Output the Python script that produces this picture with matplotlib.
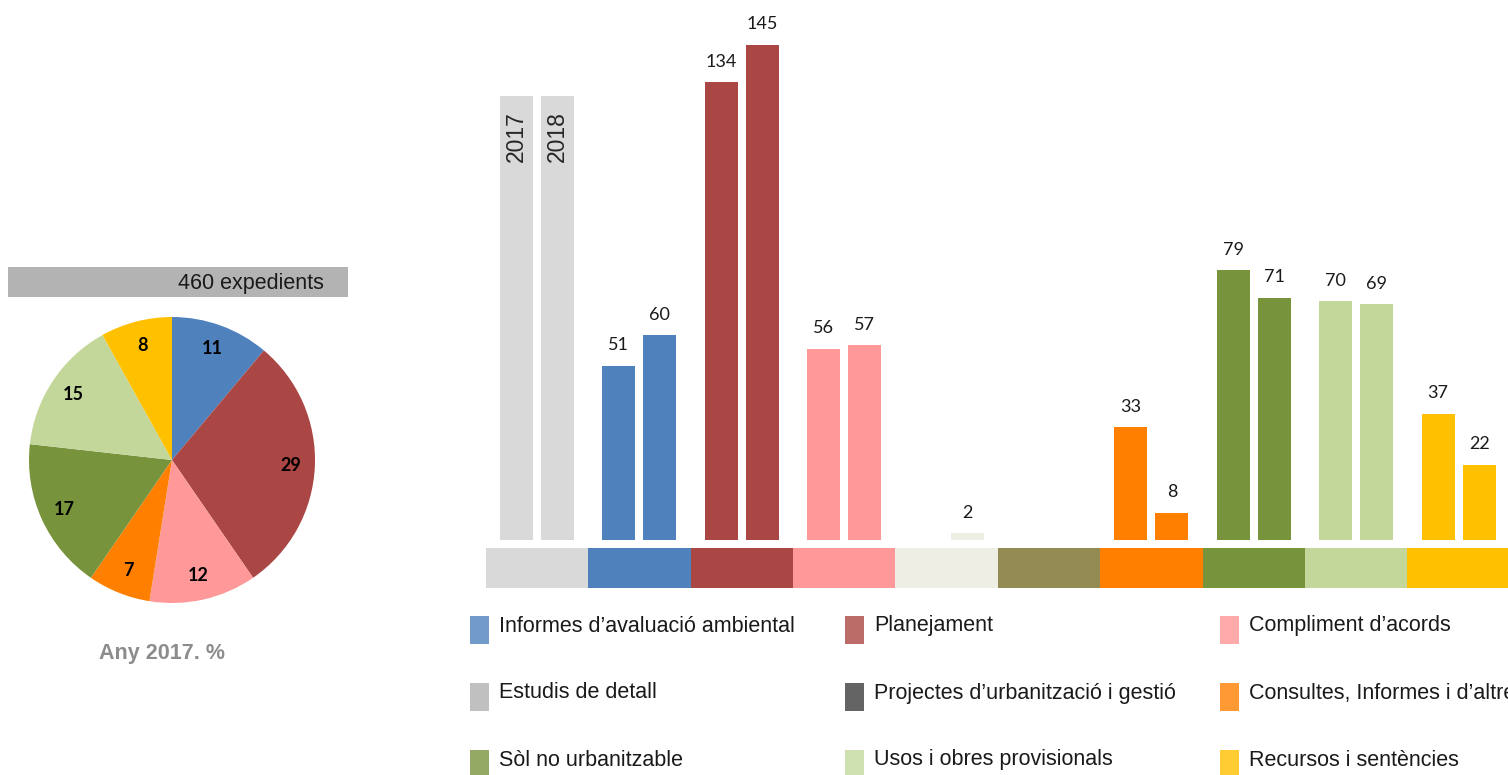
import matplotlib
matplotlib.use("Agg")
import matplotlib.pyplot as plt
from matplotlib.patches import Rectangle
from matplotlib import font_manager

# ---- data ----
pie_values = [11, 29, 12, 7, 17, 15, 8]
pie_colors = ["#4f81bd", "#aa4643", "#ff9999", "#ff8000", "#77933c", "#c4d79b", "#ffc000"]
total_expedients = 460

years = ["2017", "2018"]
header_height = 130
v2017 = [None, 51, 134, 56, None, None, 33, 79, 70, 37]
v2018 = [None, 60, 145, 57, 2, None, 8, 71, 69, 22]
slot_colors = ["#d9d9d9", "#4f81bd", "#aa4643", "#ff9999", "#eeeee4",
               "#948a54", "#ff8000", "#77933c", "#c4d79b", "#ffc000"]

legend_labels = ["Informes d\u2019avaluació ambiental", "Planejament", "Compliment d\u2019acords",
                 "Estudis de detall", "Projectes d\u2019urbanització i gestió", "Consultes, Informes i d\u2019altres",
                 "Sòl no urbanitzable", "Usos i obres provisionals", "Recursos i sentències"]
legend_colors = ["#729aca", "#bb6b68", "#ffaaaa", "#c0c0c0", "#646464", "#ff9933",
                 "#93a964", "#cfe0b0", "#ffcc33"]

names = {f.name for f in font_manager.fontManager.ttflist}
narrow = "Liberation Sans Narrow" if "Liberation Sans Narrow" in names else "Liberation Sans"

W, H = 1508, 775
fig = plt.figure(figsize=(W / 100, H / 100), dpi=100)

def fx(x): return x / W
def fy(y): return 1 - y / H

# ---- pie ----
pax = fig.add_axes([fx(29), fy(603), fx(286), 286 / H])
wedges, texts, autotexts = pax.pie(pie_values, colors=pie_colors, startangle=90, counterclock=False,
                                   autopct="%.0f", pctdistance=0.83,
                                   textprops=dict(fontfamily="Lato", fontweight="bold", fontsize=13))
pax.set_xlim(-1, 1)
pax.set_ylim(-1, 1)
pax.set_aspect("equal")

fig.add_artist(Rectangle((fx(8), fy(297)), fx(340), 30 / H, transform=fig.transFigure,
                         color="#b3b3b3", lw=0))
fig.text(fx(251), fy(284), f"{total_expedients} expedients", ha="center", va="center",
         fontfamily=narrow, fontsize=15.5, color="#1a1a1a")
fig.text(fx(162), fy(653), "Any 2017. %", ha="center", va="center",
         fontfamily=narrow, fontsize=15.5, fontweight="bold", color="#8c8c8c")

# ---- bars ----
bax = fig.add_axes([fx(485.8), fy(540), fx(1024), 529.2 / H])
bax.set_xlim(-0.5, 9.5)
bax.set_ylim(0, 155)
bax.axis("off")
off, bw = 0.2, 0.322
xs = list(range(len(slot_colors)))

hb = bax.bar([-off, off], [header_height] * 2, width=bw, color=slot_colors[0])
for b, yr in zip(hb, years):
    bax.text(b.get_x() + b.get_width() / 2, header_height - 4.5, yr, rotation=90,
             ha="center", va="top", fontfamily="Liberation Sans", fontsize=16.5, color="#262626")

for vals, d in ((v2017, -off), (v2018, off)):
    for i, v in enumerate(vals):
        if v is None or i == 0:
            continue
        bax.bar(i + d, v, width=bw, color=slot_colors[i])
        bax.annotate(str(v), (i + d, v), xytext=(0, 9), textcoords="offset points",
                     ha="center", va="bottom", fontfamily="Lato", fontsize=13, color="#1a1a1a")

sax = fig.add_axes([fx(485.8), fy(588), fx(1024), 40 / H])
sax.set_xlim(-0.5, 9.5)
sax.set_ylim(0, 1)
sax.axis("off")
sax.bar(xs, [1] * len(xs), width=1.0, color=slot_colors, align="center")

# ---- legend ----
for k, (lab, col) in enumerate(zip(legend_labels, legend_colors)):
    c, r = k % 3, k // 3
    x0 = 470 + 375 * c
    yc = 630 + 67 * r
    fig.add_artist(Rectangle((fx(x0), fy(yc + 14)), fx(19), 28 / H, transform=fig.transFigure,
                             color=col, lw=0))
    fig.text(fx(x0 + 29), fy(yc - 4), lab, ha="left", va="center",
             fontfamily=narrow, fontsize=15.5, color="#1a1a1a")

fig.savefig("out.png", dpi=100)
